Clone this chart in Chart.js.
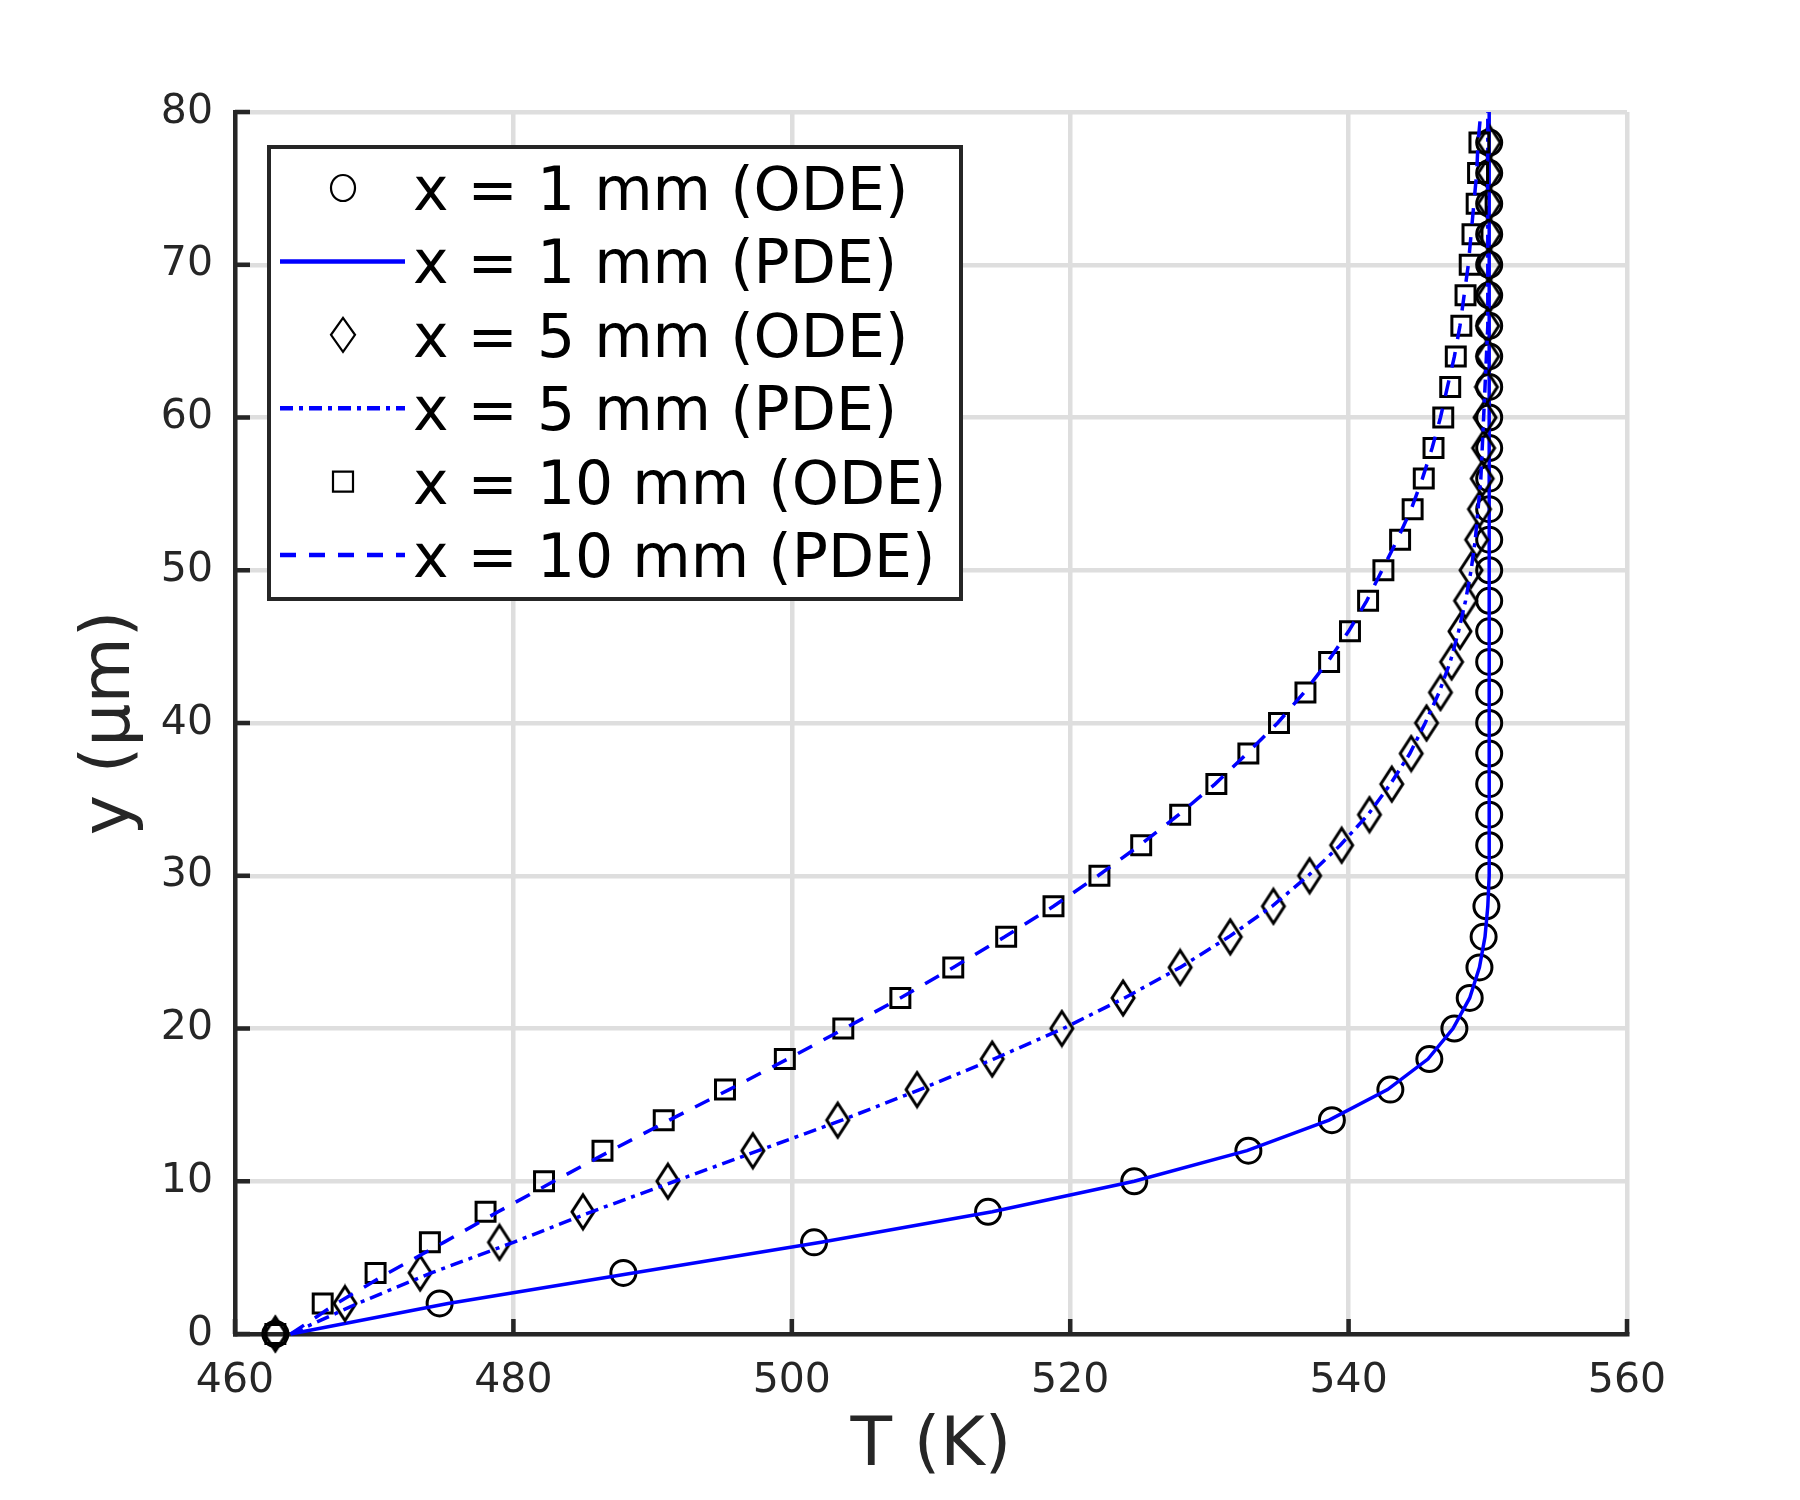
<!DOCTYPE html>
<html>
<head>
<meta charset="utf-8">
<title>Temperature profiles</title>
<script src="https://cdn.jsdelivr.net/npm/chart.js"></script>
<style>
    html, body { margin: 0; padding: 0; background: #ffffff; }
    #wrap { width: 1800px; height: 1500px; }
</style>
</head>
<body>
<div id="wrap"><canvas id="profileChart" width="1800" height="1500"></canvas></div>
<script>
// wall-normal position y (um) of the ODE markers and of the PDE curve points
const yODE = [0, 2, 4, 6, 8, 10, 12, 14, 16, 18, 20, 22, 24, 26, 28, 30, 32, 34, 36, 38,
              40, 42, 44, 46, 48, 50, 52, 54, 56, 58, 60, 62, 64, 66, 68, 70, 72, 74, 76, 78];
const yPDE = [0, 2, 4, 6, 8, 10, 12, 14, 16, 18, 20, 22, 24, 26, 28, 30, 32, 34, 36, 38,
              40, 42, 44, 46, 48, 50, 52, 54, 56, 58, 60, 62, 64, 66, 68, 70, 72, 74, 76, 78, 80];

// T (K), x = 1 mm
const T1ode = [462.9, 474.7, 487.9, 501.6, 514.1, 524.6, 532.8, 538.8, 543.0, 545.8,
               547.6, 548.7, 549.4, 549.7, 549.9, 550.1, 550.1, 550.1, 550.1, 550.1,
               550.1, 550.1, 550.1, 550.1, 550.1, 550.1, 550.1, 550.1, 550.1, 550.1,
               550.1, 550.1, 550.1, 550.1, 550.1, 550.1, 550.1, 550.1, 550.1, 550.1];
const T1pde = [464.0, 475.3, 488.6, 502.1, 514.4, 524.6, 532.7, 538.6, 542.8, 545.7,
               547.5, 548.7, 549.4, 549.8, 550.0, 550.1, 550.1, 550.1, 550.1, 550.1,
               550.1, 550.1, 550.1, 550.1, 550.1, 550.1, 550.1, 550.1, 550.1, 550.1,
               550.1, 550.1, 550.1, 550.1, 550.1, 550.1, 550.1, 550.1, 550.1, 550.1, 550.1];

// T (K), x = 5 mm
const T5ode = [462.9, 467.9, 473.3, 479.0, 485.0, 491.1, 497.2, 503.3, 509.0, 514.4,
               519.4, 523.8, 527.9, 531.5, 534.6, 537.2, 539.5, 541.5, 543.1, 544.5,
               545.6, 546.6, 547.4, 548.0, 548.4, 548.8, 549.2, 549.4, 549.6, 549.7,
               549.8, 549.9, 550.0, 550.0, 550.1, 550.1, 550.1, 550.1, 550.1, 550.1];
const T5pde = [464.0, 468.8, 474.1, 480.0, 485.6, 491.6, 497.6, 503.6, 509.2, 514.5,
               519.5, 523.9, 527.9, 531.4, 534.5, 537.1, 539.4, 541.4, 543.0, 544.4,
               545.5, 546.5, 547.3, 547.9, 548.4, 548.8, 549.1, 549.3, 549.5, 549.6,
               549.7, 549.8, 549.9, 550.0, 550.0, 550.0, 550.0, 550.0, 550.0, 550.0, 550.0];

// T (K), x = 10 mm
const T10ode = [462.9, 466.3, 470.1, 474.0, 478.0, 482.2, 486.4, 490.8, 495.2, 499.5,
                503.7, 507.8, 511.6, 515.4, 518.8, 522.1, 525.1, 527.9, 530.5, 532.8,
                535.0, 536.9, 538.6, 540.1, 541.4, 542.5, 543.7, 544.6, 545.4, 546.1,
                546.8, 547.3, 547.7, 548.1, 548.4, 548.7, 548.9, 549.2, 549.3, 549.4];
const T10pde = [464.0, 467.3, 471.0, 475.0, 478.9, 482.9, 487.0, 491.2, 495.5, 499.7,
                503.8, 507.8, 511.6, 515.3, 518.8, 522.0, 525.0, 527.8, 530.4, 532.7,
                534.9, 536.8, 538.5, 540.0, 541.3, 542.4, 543.5, 544.5, 545.3, 546.0,
                546.6, 547.1, 547.6, 548.0, 548.3, 548.6, 548.8, 549.0, 549.2, 549.3, 549.5];

const seriesLabels = ['x = 1 mm (ODE)', 'x = 1 mm (PDE)', 'x = 5 mm (ODE)',
                      'x = 5 mm (PDE)', 'x = 10 mm (ODE)', 'x = 10 mm (PDE)'];

const xTicks = [460, 480, 500, 520, 540, 560];
const yTicks = [0, 10, 20, 30, 40, 50, 60, 70, 80];

const AXIS_COLOR = '#262626';
const GRID_COLOR = '#dedede';
const BLUE = '#0000ff';

function toPoints(ts, ys) {
    return ts.map((t, i) => ({ x: t, y: ys[i] }));
}

// MATLAB style diamond is taller than wide, so build it as an image
function makeDiamond(lw) {
    const c = document.createElement('canvas');
    c.width = 28;
    c.height = 40;
    const g = c.getContext('2d');
    g.strokeStyle = '#000';
    g.lineWidth = lw;
    g.lineJoin = 'miter';
    g.beginPath();
    g.moveTo(14, 3);
    g.lineTo(25, 20);
    g.lineTo(14, 37);
    g.lineTo(3, 20);
    g.closePath();
    g.stroke();
    return c;
}
const diamond = makeDiamond(3);

function markerSet(label, ts, style, radius, order) {
    return {
        label: label,
        data: toPoints(ts, yODE),
        showLine: false,
        pointStyle: style,
        pointRadius: radius,
        pointHoverRadius: radius,
        pointBorderWidth: 3,
        borderColor: '#000',
        pointBorderColor: '#000',
        pointBackgroundColor: 'rgba(0,0,0,0)',
        backgroundColor: 'rgba(0,0,0,0)',
        order: order,
        clip: false
    };
}

function curveSet(label, ts, dash, order) {
    return {
        label: label,
        data: toPoints(ts, yPDE),
        showLine: true,
        borderColor: BLUE,
        borderWidth: 3.5,
        borderDash: dash,
        pointRadius: 0,
        pointHoverRadius: 0,
        tension: 0,
        fill: false,
        order: order,
        clip: false
    };
}

// inward tick marks on the left and bottom axes
const innerTicks = {
    id: 'innerTicks',
    beforeDatasetsDraw(chart) {
        const { ctx, chartArea, scales } = chart;
        const len = 15;
        ctx.save();
        ctx.strokeStyle = AXIS_COLOR;
        ctx.lineWidth = 4.5;
        ctx.beginPath();
        xTicks.forEach(v => {
            const px = scales.x.getPixelForValue(v);
            ctx.moveTo(px, chartArea.bottom);
            ctx.lineTo(px, chartArea.bottom - len);
        });
        yTicks.forEach(v => {
            const py = scales.y.getPixelForValue(v);
            ctx.moveTo(chartArea.left, py);
            ctx.lineTo(chartArea.left + len, py);
        });
        ctx.stroke();
        ctx.restore();
    }
};

// boxed legend inside the upper left corner of the axes
const boxLegend = {
    id: 'boxLegend',
    afterDraw(chart) {
        const { ctx, chartArea } = chart;
        const left = chartArea.left + 34;
        const top = chartArea.top + 35;
        const w = 692, h = 452;
        const rowH = 73.4;
        const firstRow = top + 41;

        ctx.save();
        ctx.fillStyle = '#fff';
        ctx.fillRect(left, top, w, h);
        ctx.strokeStyle = AXIS_COLOR;
        ctx.lineWidth = 4;
        ctx.strokeRect(left, top, w, h);

        const lineX0 = left + 11, lineX1 = left + 136, markX = left + 74;
        chart.data.datasets.forEach((ds, i) => {
            const cy = firstRow + i * rowH;
            ctx.save();
            if (ds.showLine) {
                ctx.strokeStyle = ds.borderColor;
                ctx.lineWidth = ds.borderWidth + 1;
                ctx.setLineDash(ds.borderDash || []);
                ctx.beginPath();
                ctx.moveTo(lineX0, cy);
                ctx.lineTo(lineX1, cy);
                ctx.stroke();
            } else {
                ctx.strokeStyle = '#000';
                ctx.lineWidth = 2.2;
                ctx.beginPath();
                if (ds.pointStyle === 'circle') {
                    ctx.ellipse(markX, cy, 12, 13, 0, 0, Math.PI * 2);
                } else if (ds.pointStyle === 'rect') {
                    ctx.rect(markX - 10, cy - 10, 20, 20);
                } else {
                    ctx.moveTo(markX, cy - 17);
                    ctx.lineTo(markX + 12, cy);
                    ctx.lineTo(markX, cy + 17);
                    ctx.lineTo(markX - 12, cy);
                    ctx.closePath();
                }
                ctx.stroke();
            }
            ctx.restore();

            ctx.fillStyle = '#000';
            ctx.font = '60px "DejaVu Sans"';
            ctx.textAlign = 'left';
            ctx.textBaseline = 'alphabetic';
            ctx.fillText(ds.label, left + 144, cy + 22);
        });
        ctx.restore();
    }
};

Chart.defaults.font.family = '"DejaVu Sans", sans-serif';

const chart = new Chart(document.getElementById('profileChart'), {
    type: 'scatter',
    data: {
        datasets: [
            markerSet(seriesLabels[0], T1ode, 'circle', 12.5, 6),
            curveSet(seriesLabels[1], T1pde, [], 5),
            markerSet(seriesLabels[2], T5ode, diamond, 13, 4),
            curveSet(seriesLabels[3], T5pde, [13, 6, 4, 6], 3),
            markerSet(seriesLabels[4], T10ode, 'rect', 13.4, 2),
            curveSet(seriesLabels[5], T10pde, [16, 13], 1)
        ]
    },
    options: {
        responsive: false,
        devicePixelRatio: 1,
        animation: false,
        events: [],
        layout: { padding: { top: 112, right: 173, left: 0, bottom: 0 } },
        plugins: {
            legend: { display: false },
            tooltip: { enabled: false }
        },
        scales: {
            x: {
                type: 'linear',
                min: xTicks[0],
                max: xTicks[xTicks.length - 1],
                afterBuildTicks: s => { s.ticks = xTicks.map(v => ({ value: v })) },
                afterFit: s => { s.height = 166 },
                grid: { color: GRID_COLOR, lineWidth: 4.5, drawTicks: false, z: -1 },
                border: { display: true, color: AXIS_COLOR, width: 4.5 },
                ticks: { color: AXIS_COLOR, font: { size: 41 }, padding: 23, maxRotation: 0 },
                title: {
                    display: true, text: 'T (K)', color: AXIS_COLOR,
                    font: { size: 68 }, padding: { top: 0, bottom: 12 }
                }
            },
            y: {
                type: 'linear',
                min: yTicks[0],
                max: yTicks[yTicks.length - 1],
                afterBuildTicks: s => { s.ticks = yTicks.map(v => ({ value: v })) },
                afterFit: s => { s.width = 235 },
                grid: { color: GRID_COLOR, lineWidth: 4.5, drawTicks: false, z: -1 },
                border: { display: true, color: AXIS_COLOR, width: 4.5 },
                ticks: { color: AXIS_COLOR, font: { size: 41 }, padding: 22 },
                title: {
                    display: true, text: 'y (μm)', color: AXIS_COLOR,
                    font: { size: 68 }, padding: { top: 71, bottom: 0 }
                }
            }
        }
    },
    plugins: [innerTicks, boxLegend]
});
</script>
</body>
</html>
